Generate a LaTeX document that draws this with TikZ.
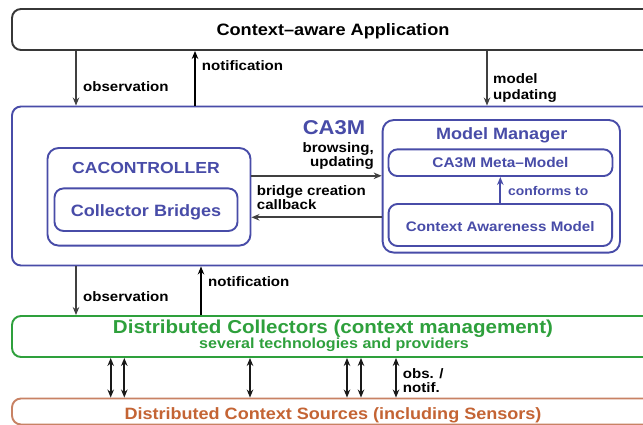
\documentclass[tikz,border=0pt]{standalone}
\usepackage{fontspec}
\setmainfont{Liberation Sans}[FakeStretch=1.1]
\usetikzlibrary{arrows.meta}

\definecolor{cablue}{RGB}{72,76,168}
\definecolor{cagreen}{RGB}{46,160,60}
\definecolor{casrc}{RGB}{196,100,52}
\definecolor{casrcline}{RGB}{200,130,100}
\definecolor{caframe}{RGB}{55,55,55}

\tikzset{
  tier/.style={draw=caframe, line width=1.9pt, rounded corners=9pt, inner sep=0pt, minimum width=642pt},
  unit/.style={draw=cablue, line width=1.9pt, rounded corners=9pt, inner sep=0pt, text=cablue},
  boxtitle/.style={inner sep=0pt, anchor=base},
  lbl/.style={inner sep=0pt, anchor=base west, align=left, font=\bfseries\fontsize{13.7}{14.5}\selectfont},
  flow/.style={draw=black!75, line width=1.7pt, -{Stealth[length=8pt,width=6.5pt]}},
  twoway/.style={flow, draw=black!90, {Stealth[length=8pt,width=6.5pt]}-{Stealth[length=8pt,width=6.5pt]}}
}

\begin{document}
\begin{tikzpicture}[x=1pt, y=-1pt]
  \useasboundingbox (0,0) rectangle (643,425);
  \clip (0,0) rectangle (643,425);
  \fill[white] (0,0) rectangle (643,425);

  % layers
  \node[tier, minimum height=41pt, text height=13pt, text depth=0pt, font=\bfseries\fontsize{16.5}{18}\selectfont] (app) at (333,29.5) {Context--aware Application};
  \node[unit, minimum width=642pt, minimum height=159pt] (ca3m) at (333,186) {};
  \node[boxtitle, text=cablue, font=\bfseries\fontsize{20}{22}\selectfont] (ca3mname) at (334,135) {CA3M};
  \node[tier, draw=cagreen, minimum height=41pt] (coll) at (333,336.5) {};
  \node[boxtitle, text=cagreen, font=\bfseries\fontsize{18.7}{20}\selectfont] (collname) at (333,333) {Distributed Collectors (context management)};
  \node[boxtitle, text=cagreen, font=\bfseries\fontsize{14.6}{16}\selectfont] (collnote) at (334,348.5) {several technologies and providers};
  \node[tier, draw=casrcline, minimum height=26pt, text=casrc, text height=15pt, text depth=0pt, font=\bfseries\fontsize{16.4}{18}\selectfont] (src) at (333,411.5) {Distributed Context Sources (including Sensors)};

  % CA3M parts
  \node[unit, minimum width=203pt, minimum height=97.5pt, rounded corners=11pt] (ctrl) at (149,196.8) {};
  \node[boxtitle, text=cablue, font=\bfseries\fontsize{16}{18}\selectfont] (ctrlname) at (146,174) {CACONTROLLER};
  \node[unit, minimum width=183pt, minimum height=42.5pt, text height=14pt, text depth=0pt, font=\bfseries\fontsize{16.4}{18}\selectfont] (bridges) at (146,209.7) {Collector Bridges};
  \node[unit, minimum width=237.3pt, minimum height=132.5pt, rounded corners=11pt] (mm) at (501.3,186.3) {};
  \node[boxtitle, text=cablue, font=\bfseries\fontsize{16.4}{18}\selectfont] (mmname) at (501.7,139.3) {Model Manager};
  \node[unit, minimum width=224pt, minimum height=26.7pt, text height=9.6pt, text depth=0pt, font=\bfseries\fontsize{14}{16}\selectfont] (meta) at (500.5,162.7) {CA3M Meta--Model};
  \node[unit, minimum width=223.5pt, minimum height=42pt, text height=13pt, text depth=0pt, font=\bfseries\fontsize{13.8}{16}\selectfont] (cam) at (500.3,225) {Context Awareness Model};

  % arrows
  \draw[flow] ([xshift=-257pt]app.south) -- ([xshift=-257pt]app.south |- ca3m.north);
  \draw[flow, draw=black] ([xshift=-138pt]app.south |- ca3m.north) -- ([xshift=-138pt]app.south);
  \draw[flow] ([xshift=154pt]app.south) -- ([xshift=154pt]app.south |- ca3m.north);
  \draw[flow] ([yshift=21pt]ctrl.east) -- ([yshift=21pt]ctrl.east -| mm.west);
  \draw[flow] ([yshift=-20.5pt]ctrl.east -| mm.west) -- ([yshift=-20.5pt]ctrl.east);
  \draw[flow, draw=cablue] (cam.north) -- (cam.north |- meta.south);
  \draw[flow] ([xshift=-257pt]ca3m.south) -- ([xshift=-257pt]ca3m.south |- coll.north);
  \draw[flow, draw=black] ([xshift=-132pt]ca3m.south |- coll.north) -- ([xshift=-132pt]ca3m.south);
  \draw[twoway] ([xshift=-222.3pt]coll.south) -- ([xshift=-222.3pt]coll.south |- src.north);
  \draw[twoway] ([xshift=-208.7pt]coll.south) -- ([xshift=-208.7pt]coll.south |- src.north);
  \draw[twoway] ([xshift=-83pt]coll.south) -- ([xshift=-83pt]coll.south |- src.north);
  \draw[twoway] ([xshift=14pt]coll.south) -- ([xshift=14pt]coll.south |- src.north);
  \draw[twoway] ([xshift=28pt]coll.south) -- ([xshift=28pt]coll.south |- src.north);
  \draw[twoway] ([xshift=63pt]coll.south) -- ([xshift=63pt]coll.south |- src.north);

  % labels
  \node[lbl] (obsup) at (83,91.7) {observation};
  \node[lbl] (notifup) at (201.7,70.7) {notification};
  \node[lbl, font=\bfseries\fontsize{13.7}{16}\selectfont] (modelup) at (493,99.3) {model\\updating};
  \node[lbl, anchor=base east, align=right] (browse) at (374,166.7) {browsing,\\updating};
  \node[lbl] (bridgecb) at (256.7,210) {bridge creation\\callback};
  \node[lbl, text=cablue, font=\bfseries\fontsize{12.6}{14}\selectfont] (conforms) at (508,196) {conforms to};
  \node[lbl] (obslow) at (83,301.7) {observation};
  \node[lbl] (notiflow) at (208,286) {notification};
  \node[lbl] (obsnotif) at (402.7,392.7) {obs. /\\notif.};
\end{tikzpicture}
\end{document}
